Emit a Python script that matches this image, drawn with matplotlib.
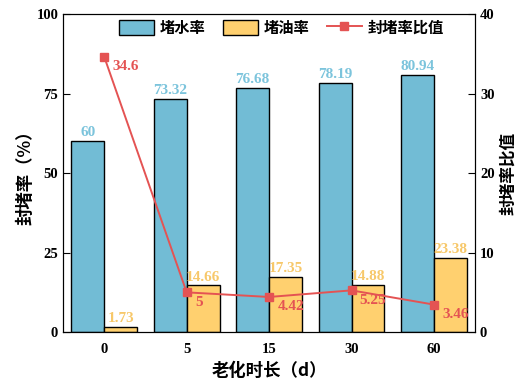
import numpy as np
import matplotlib.pyplot as plt

# data
days = ['0', '5', '15', '30', '60']
water = [60, 73.32, 76.68, 78.19, 80.94]
oil = [1.73, 14.66, 17.35, 14.88, 23.38]
ratio = [34.6, 5, 4.42, 5.25, 3.46]
ratio_txt = ['34.6', '5', '4.42', '5.25', '3.46']

c_blue = '#72BCD5'
c_orange = '#FFD06F'
c_red = '#E45353'
c_blue_txt = '#7CC4DC'
c_orange_txt = '#F7C86A'

plt.rcParams['font.family'] = ['Liberation Serif', 'Noto Sans CJK SC']
plt.rcParams['font.weight'] = 'bold'
plt.rcParams['font.size'] = 10.5

fig = plt.figure(figsize=(5.17, 3.88), dpi=100)
ax = fig.add_axes([0.122, 0.144, 0.797, 0.820])
ax2 = ax.twinx()

x = np.arange(len(days))
w = 0.4
b1 = ax.bar(x - w/2, water, w, color=c_blue, edgecolor='black', linewidth=1, label='堵水率')
b2 = ax.bar(x + w/2, oil, w, color=c_orange, edgecolor='black', linewidth=1, label='堵油率')

for xi, v in zip(x, water):
    ax.text(xi - w/2, v + 0.6, f'{v:g}', ha='center', va='bottom', color=c_blue_txt, fontsize=11)
for xi, v in zip(x, oil):
    ax.text(xi + w/2, v + 0.6, f'{v:g}', ha='center', va='bottom', color=c_orange_txt, fontsize=11)

ln, = ax2.plot(x, ratio, color=c_red, marker='s', markersize=6, linewidth=1.4, label='封堵率比值')
for xi, v, t in zip(x, ratio, ratio_txt):
    ax2.text(xi + 0.1, v - 0.4, t, ha='left', va='top', color=c_red, fontsize=11)

ax.set_xlim(-0.5, 4.5)
ax.set_ylim(0, 100)
ax2.set_ylim(0, 40)
ax.set_xticks(x)
ax.set_xticklabels(days)
ax.set_yticks([0, 25, 50, 75, 100])
ax2.set_yticks([0, 10, 20, 30, 40])
ax.tick_params(axis='x', length=0, pad=8)
ax.tick_params(axis='y', direction='in', length=5)
ax2.tick_params(axis='y', direction='in', length=5)

cjk = ['Noto Sans CJK SC', 'Liberation Serif']
ax.set_xlabel('老化时长（d）', fontsize=12.5, family=cjk, fontweight='bold')
ax.set_ylabel('封堵率（%）', fontsize=12.5, family=cjk, fontweight='bold', labelpad=1)
ax2.set_ylabel('封堵率比值', fontsize=12, family=cjk, fontweight='bold', labelpad=3)

leg = ax.legend([b1, b2, ln], ['堵水率', '堵油率', '封堵率比值'], loc='upper center',
                bbox_to_anchor=(0.53, 1.025), ncol=3, frameon=False,
                prop={'family': cjk, 'weight': 'bold', 'size': 11},
                handlelength=2.3, handleheight=1.2, columnspacing=1.1, handletextpad=0.4)

fig.savefig('out.png', dpi=100)
